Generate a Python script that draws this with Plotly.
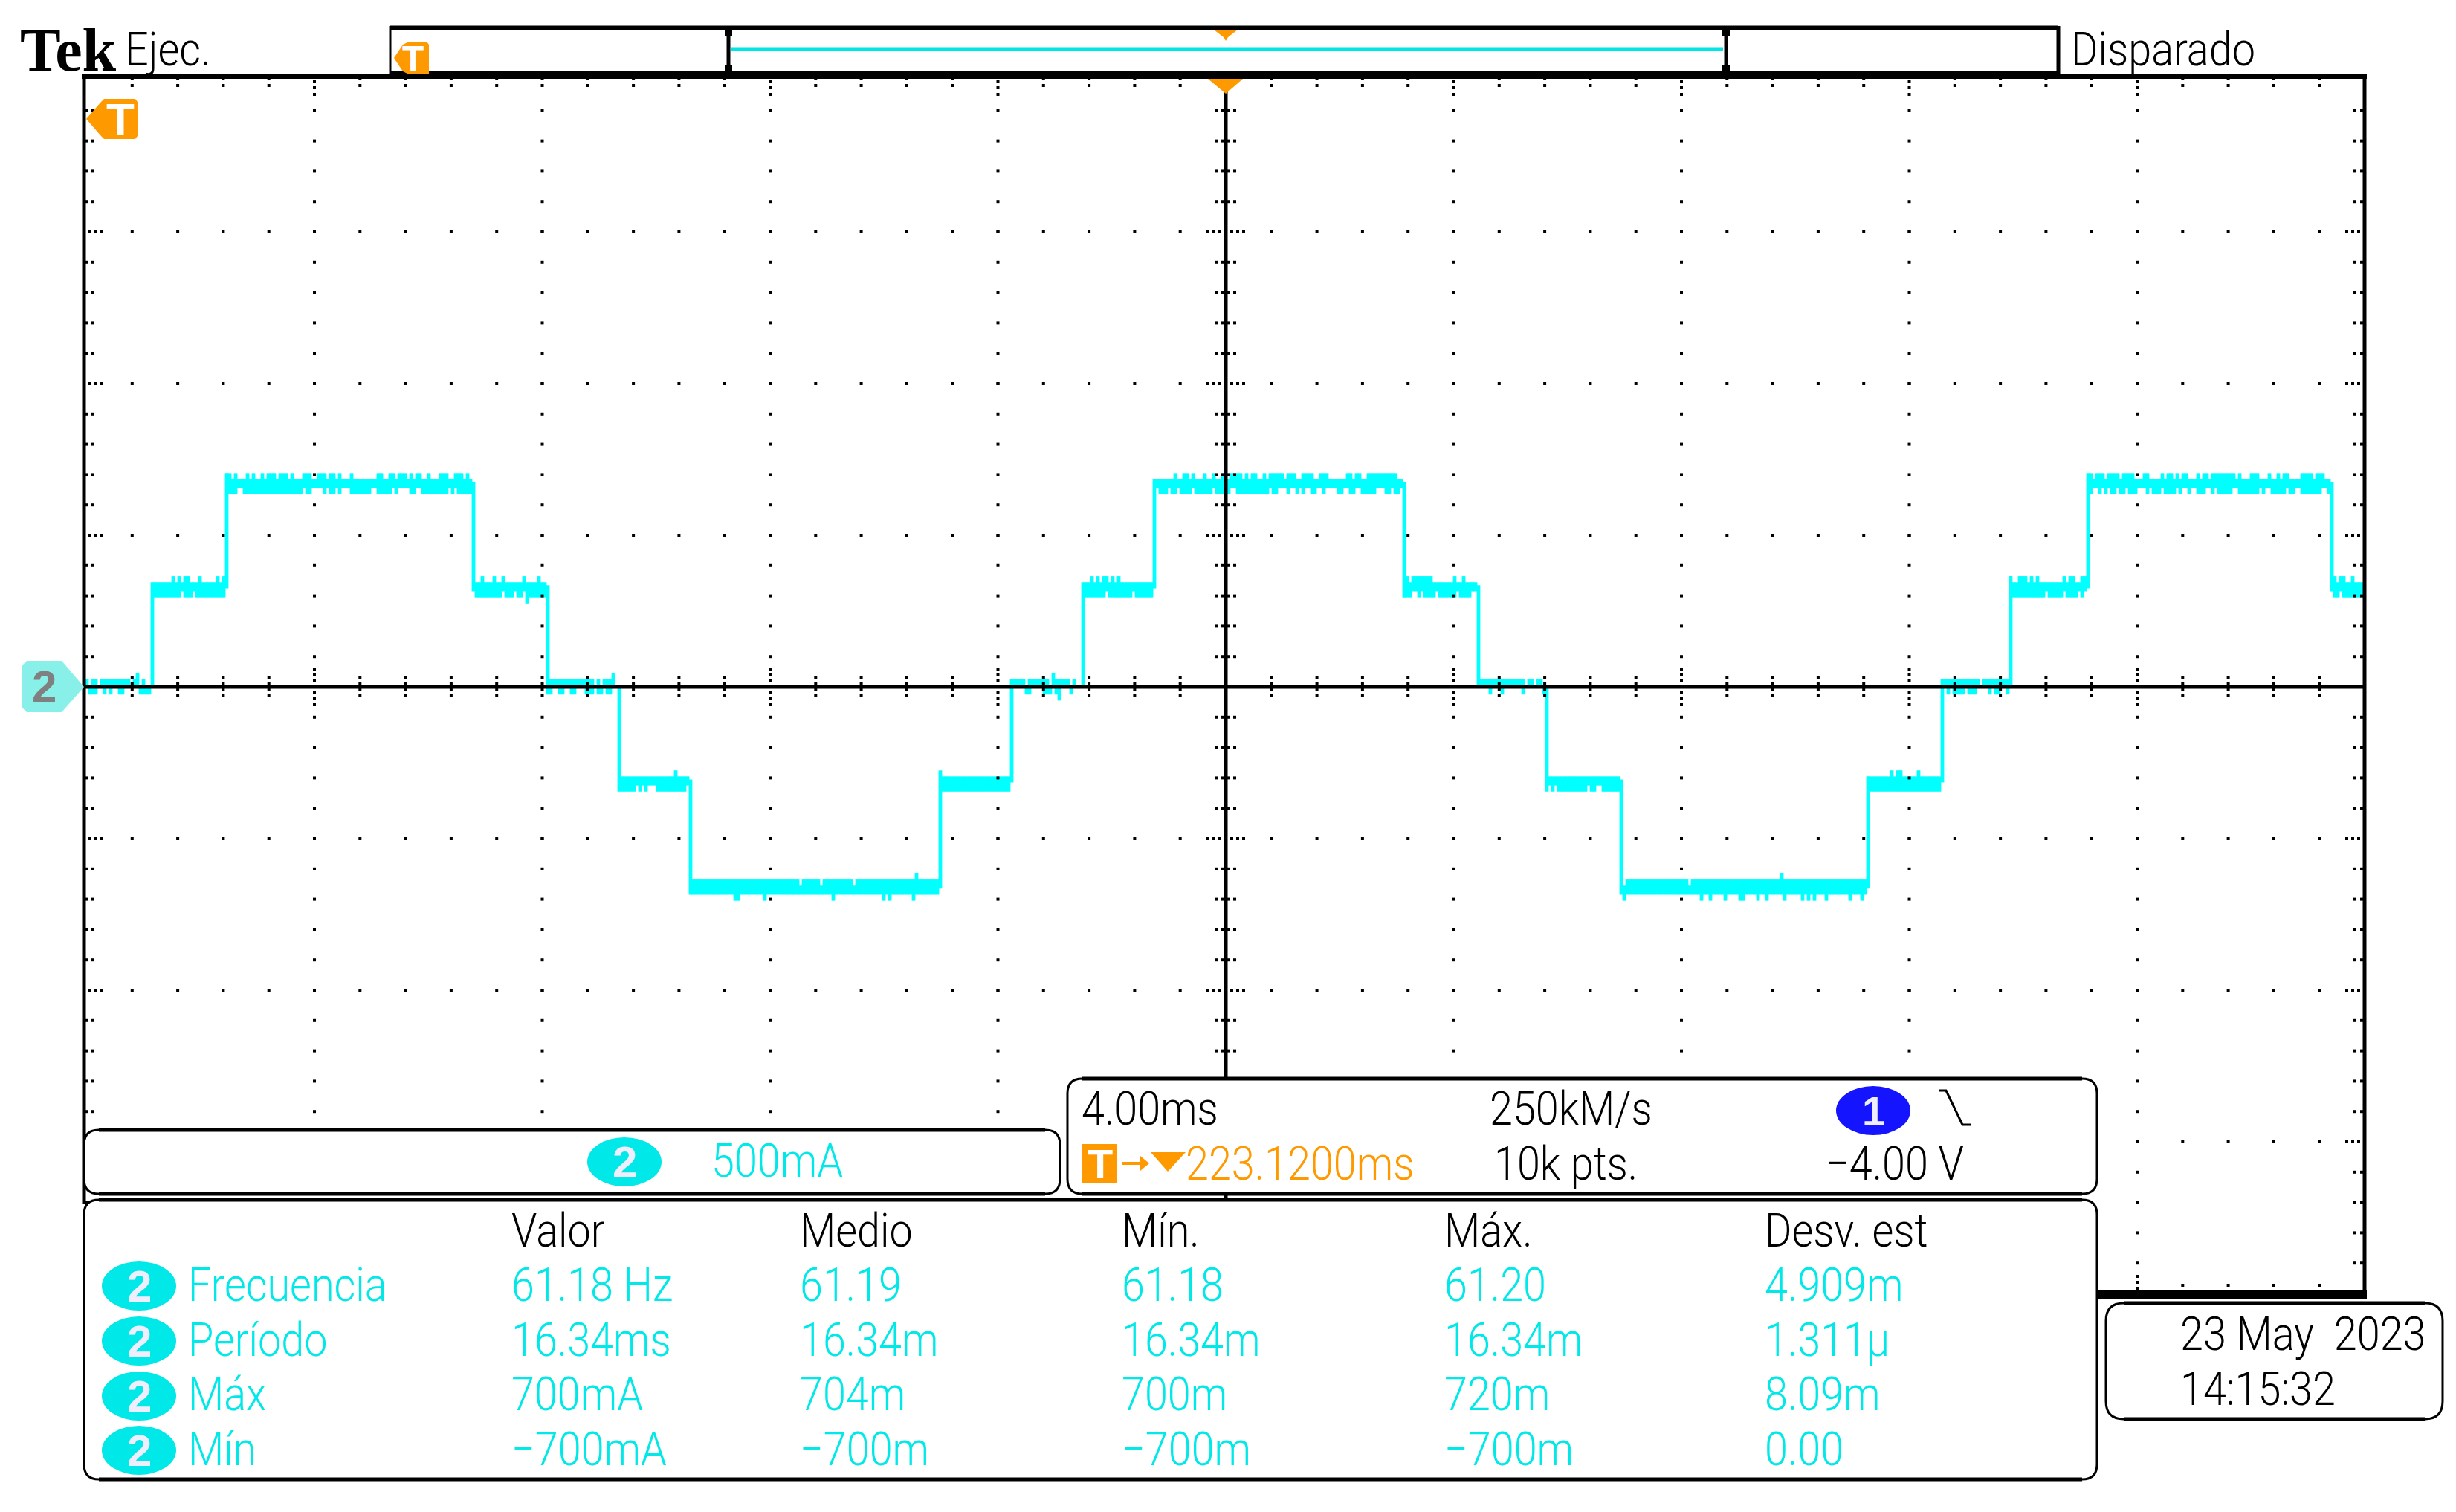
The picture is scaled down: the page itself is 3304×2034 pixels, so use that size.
import plotly.graph_objects as go

W, H = 3304, 2034
CYAN = "#00FFFF"
TXT_CYAN = "#00E8E8"
ORANGE = "#FF9900"
FONT = "Roboto"

# ---- trace: display columns (4 px wide on the capture), values in mA ----
edges = [0, 23, 48, 131, 156, 180, 204, 288, 312, 336, 360, 444, 469, 492, 517, 600, 625, 648, 674, 756, 767]
steps = ["z", "p1", "p2", "p1", "z", "n1", "n2", "n1", "z", "p1", "p2", "p1", "z", "n1", "n2", "n1", "z", "p1", "p2", "p1"]

# level: top of band, bottom of band, upper excursion, lower excursion
level_z = [0, 0, 20, -20]
level_p1 = [340, 320, 360, 300]
level_p2 = [680, 660, 700, 640]
level_n1 = [-300, -320, -280, -340]
level_n2 = [-640, -680, -620, -700]

up_0 = [(0, 2), (3, 5), (6, 16), (17, 19), (20, 21)]
dn_0 = [(2, 5), (7, 8), (9, 10), (12, 14), (19, 23)]
up_1 = [(30, 31), (32, 33), (34, 36), (39, 40), (45, 46), (47, 48)]
dn_1 = [(24, 33), (34, 37), (38, 48)]
up_2 = [(48, 50), (51, 52), (55, 56), (57, 58), (60, 61), (62, 65), (66, 69), (70, 71), (74, 77), (79, 82), (83, 85),
        (86, 87), (90, 91), (99, 101), (103, 105), (106, 109), (110, 111), (112, 114), (116, 117), (120, 123),
        (125, 128), (129, 130)]
dn_2 = [(48, 52), (54, 74), (75, 77), (81, 82), (83, 85), (86, 87), (90, 97), (99, 104), (105, 106), (110, 112),
        (114, 123), (124, 125), (126, 131)]
up_3 = [(131, 132), (134, 135), (138, 139), (141, 142), (148, 149), (153, 154)]
dn_3 = [(132, 141), (142, 145), (146, 148), (149, 156)]
up_4 = [(156, 172), (173, 174), (175, 178), (178, 179)]
dn_4 = [(156, 158), (160, 162), (164, 166), (169, 172), (173, 175), (176, 178)]
up_5 = [(199, 200)]
dn_5 = [(180, 181), (181, 186), (187, 188), (189, 190), (193, 203)]
up_6 = [(280, 281)]
dn_6 = [(219, 221), (229, 230), (252, 253), (269, 270), (271, 272), (279, 280)]
up_7 = [(288, 289)]
dn_7 = [(288, 312)]
up_8 = [(312, 317), (318, 325), (326, 332), (333, 334)]
dn_8 = [(317, 319), (323, 326), (327, 329), (332, 333)]
up_9 = [(339, 340), (341, 342), (343, 345), (346, 347), (348, 349)]
dn_9 = [(336, 344), (345, 353), (354, 360)]
up_10 = [(367, 368), (370, 372), (373, 374), (377, 378), (380, 381), (383, 384), (386, 390), (391, 392), (393, 395),
         (397, 398), (399, 404), (405, 408), (410, 414), (416, 419), (425, 427), (428, 430), (432, 442)]
dn_10 = [(362, 365), (366, 368), (369, 373), (374, 380), (381, 386), (388, 399), (400, 402), (405, 406), (408, 409),
         (410, 411), (413, 415), (417, 418), (422, 424), (426, 428), (430, 435), (438, 440), (441, 443)]
up_11 = [(444, 446), (447, 454), (461, 462), (464, 465)]
dn_11 = [(444, 447), (449, 450), (451, 455), (456, 462), (463, 467)]
up_12 = [(469, 485), (486, 488), (489, 491)]
dn_12 = [(473, 474), (477, 478), (484, 485), (491, 492)]
up_13 = []
dn_13 = [(492, 493), (494, 495), (496, 506), (507, 509), (511, 517)]
up_14 = [(571, 572)]
dn_14 = [(518, 519), (544, 545), (547, 548), (552, 553), (557, 559), (563, 564), (566, 567), (572, 573), (578, 579),
         (580, 581), (582, 583), (586, 587), (594, 595), (598, 599)]
up_15 = [(608, 609), (610, 612), (617, 618)]
dn_15 = [(600, 625)]
up_16 = [(625, 638), (639, 648)]
dn_16 = [(627, 628), (629, 633), (634, 637), (641, 642), (643, 645), (647, 648)]
up_17 = [(648, 649), (651, 654), (655, 656), (657, 658), (666, 667), (668, 670), (672, 674)]
dn_17 = [(648, 660), (661, 666), (667, 671), (672, 673)]
up_18 = [(674, 676), (677, 680), (681, 685), (686, 690), (693, 695), (699, 700), (701, 703), (704, 705), (706, 708),
         (711, 712), (713, 715), (716, 724), (725, 726), (729, 732), (735, 736), (738, 739), (740, 742), (746, 750),
         (751, 754)]
dn_18 = [(674, 676), (678, 679), (680, 681), (682, 684), (685, 687), (688, 691), (694, 695), (696, 699), (700, 704),
         (705, 706), (708, 709), (711, 714), (716, 717), (718, 723), (725, 732), (733, 734), (736, 741), (742, 744),
         (746, 753), (755, 756)]
up_19 = [(757, 758), (759, 761), (763, 764)]
dn_19 = [(757, 759), (760, 767)]

# columns where the band top drops one code on the bottom plateaus
notch_n2 = [241, 248, 259, 518, 540]
# single columns reaching one code further than the excursion level
spike_col = [18, 178, 149, 326, 328]
spike_val = [40, 40, 280, 40, -40]

up_all = [up_0, up_1, up_2, up_3, up_4, up_5, up_6, up_7, up_8, up_9, up_10, up_11, up_12, up_13, up_14, up_15, up_16,
          up_17, up_18, up_19]
dn_all = [dn_0, dn_1, dn_2, dn_3, dn_4, dn_5, dn_6, dn_7, dn_8, dn_9, dn_10, dn_11, dn_12, dn_13, dn_14, dn_15, dn_16,
          dn_17, dn_18, dn_19]
levels = {"z": level_z, "p1": level_p1, "p2": level_p2, "n1": level_n1, "n2": level_n2}

# ---- readouts ----
meas_head = ["Valor", "Medio", "Mín.", "Máx.", "Desv. est"]
meas_names = ["Frecuencia", "Período", "Máx", "Mín"]
meas_valor = ["61.18 Hz", "16.34ms", "700mA", "−700mA"]
meas_medio = ["61.19", "16.34m", "704m", "−700m"]
meas_min = ["61.18", "16.34m", "700m", "−700m"]
meas_max = ["61.20", "16.34m", "720m", "−700m"]
meas_desv = ["4.909m", "1.311µ", "8.09m", "0.00"]


def px(x):
    return x / W


def py(y):
    return 1 - y / H


def path(points, close=True):
    s = "M " + " L ".join(f"{px(x):.5f},{py(y):.5f}" for x, y in points)
    return s + " Z" if close else s


def rounded(x0, y0, x1, y1, r=20):
    return (f"M {px(x0 + r):.5f},{py(y0):.5f} L {px(x1 - r):.5f},{py(y0):.5f} "
            f"Q {px(x1):.5f},{py(y0):.5f} {px(x1):.5f},{py(y0 + r):.5f} "
            f"L {px(x1):.5f},{py(y1 - r):.5f} Q {px(x1):.5f},{py(y1):.5f} {px(x1 - r):.5f},{py(y1):.5f} "
            f"L {px(x0 + r):.5f},{py(y1):.5f} Q {px(x0):.5f},{py(y1):.5f} {px(x0):.5f},{py(y1 - r):.5f} "
            f"L {px(x0):.5f},{py(y0 + r):.5f} Q {px(x0):.5f},{py(y0):.5f} {px(x0 + r):.5f},{py(y0):.5f} Z")


# build the column bars of the trace
half_code = 5  # half of the drawn line height, mA
xs, ys = [], []
prev_mid = None
for i, name in enumerate(steps):
    hi0, lo0, up, dn = levels[name]
    for c in range(edges[i], edges[i + 1]):
        hi, lo = hi0, lo0
        if name == "n2" and c in notch_n2:
            hi = hi0 - 20
        if any(a <= c < b for a, b in up_all[i]):
            hi = up
        if any(a <= c < b for a, b in dn_all[i]):
            lo = dn
        if c in spike_col:
            v = spike_val[spike_col.index(c)]
            hi, lo = max(hi, v), min(lo, v)
        if c == edges[i] and prev_mid is not None:
            hi, lo = max(hi, prev_mid), min(lo, prev_mid)
        xs += [c, c, None]
        ys += [lo - half_code, hi + half_code, None]
    prev_mid = (hi0 + lo0) / 2

# graticule, in the same units as the trace
col_c = 384
col_step = 15.325
x_minor = [col_c + k * col_step for k in range(-24, 25)]
x_major = [col_c + k * col_step * 5 for k in range(-4, 5)]
y_minor = [j * 100 for j in range(-19, 20)]
y_major = [j * 500 for j in range(-3, 4)]
mA = 1 / 0.408  # mA per px

gx, gy = [], []
for x in x_major:
    if x != col_c:
        for y in y_minor:
            gx.append(x)
            gy.append(y)
for y in y_major:
    if y != 0:
        for x in x_minor:
            gx.append(x)
            gy.append(y)
for x in x_minor:
    off = (-24, -16, -8, 8, 16, 24) if x in x_major else (-12, -4, 4, 12)
    for d in off:
        gx.append(x)
        gy.append(d * mA)
for y in y_minor:
    off = (-6, -4, -2, 2, 4, 6) if y in y_major else (-3, -1, 1, 3)
    for d in off:
        gx.append(col_c + d)
        gy.append(y)
# edge ticks
for x in x_minor:
    major = x in x_major
    for y_px in (110, 118, 127) if major else (106, 115):
        gx.append(x)
        gy.append((924 - y_px) * mA)
    for y_px in (1717, 1725, 1733) if major else (1729, 1737):
        gx.append(x)
        gy.append((924 - y_px) * mA)
for y in y_minor:
    major = y in y_major
    for c in (2, 4, 6) if major else (1, 3):
        gx.append(c)
        gy.append(y)
    for c in (761, 763, 765) if major else (763.75, 766):
        gx.append(c)
        gy.append(y)

fig = go.Figure()
fig.add_trace(go.Scatter(x=xs, y=ys, mode="lines", line=dict(color=CYAN, width=4.8), hoverinfo="skip"))
fig.add_trace(go.Scatter(x=gx, y=gy, mode="markers", hoverinfo="skip",
                         marker=dict(symbol="square", size=4, color="#000000", line=dict(width=0))))

shapes = []


def line(x0, y0, x1, y1, w=5, color="#000000"):
    shapes.append(dict(type="line", xref="paper", yref="paper", layer="above", x0=px(x0), y0=py(y0), x1=px(x1),
                       y1=py(y1), line=dict(color=color, width=w)))


def poly(points, fill):
    shapes.append(dict(type="path", xref="paper", yref="paper", layer="above", path=path(points), fillcolor=fill,
                       line=dict(width=0)))


def panel(x0, y0, x1, y1, r=20):
    shapes.append(dict(type="path", xref="paper", yref="paper", layer="above", path=rounded(x0, y0, x1, y1, r),
                       fillcolor="#FFFFFF", line=dict(color="#000000", width=3)))
    line(x0 + r, y0, x1 - r, y0)
    line(x0 + r, y1, x1 - r, y1)


def badge(cx, cy, color):
    shapes.append(dict(type="circle", xref="paper", yref="paper", layer="above", x0=px(cx - 50), x1=px(cx + 50),
                       y0=py(cy - 33), y1=py(cy + 33), fillcolor=color, line=dict(width=0)))


# frame and centre cross
line(1649, 103, 1649, 1745, 5)
line(0 + 113, 924, 3181, 924, 5)
line(110, 103, 3184, 103, 6)
line(113, 103, 113, 1620, 5)
line(3181, 103, 3181, 1747, 5)
line(2821, 1741, 3184, 1741, 12)

# record-length bar on top
line(525, 37.5, 2769, 37.5, 6)
line(525, 100, 2769, 100, 9)
line(525, 35, 525, 102, 3)
line(2769, 35, 2769, 102, 5)
line(980, 36, 980, 100, 5)
line(2322, 36, 2322, 100, 5)
for wx in (980, 2322):
    line(wx, 38, wx, 48, 10)
    line(wx, 88, wx, 98, 10)
line(984, 66, 2318, 66, 5, "#00E5E5")
poly([(1633, 40), (1665, 40), (1652, 50), (1649, 55), (1646, 50)], ORANGE)
poly([(1625, 106), (1672, 106), (1649, 126)], ORANGE)

# trigger markers
poly([(530, 78), (542, 60), (550, 56), (574, 56), (577, 60), (577, 100), (550, 100), (542, 96)], ORANGE)
poly([(116, 160), (136, 137), (140, 133), (182, 133), (185, 137), (185, 183), (182, 187), (140, 187), (136, 183)], ORANGE)

# channel ground marker
poly([(30, 895), (36, 889), (83, 889), (113, 924), (83, 958), (36, 958), (30, 952)], "#88F0E8")

# readout panels
panel(113, 1520, 1426, 1606)
panel(1436, 1451, 2821, 1606)
panel(113, 1614, 2821, 1990)
panel(2833, 1753, 3286, 1909, 24)
for cy in (1730, 1804, 1878, 1951):
    badge(187, cy, TXT_CYAN)
badge(840, 1563, TXT_CYAN)
badge(2520, 1494, "#1414FF")

# trigger readout glyphs
poly([(1456, 1539), (1503, 1539), (1503, 1592), (1456, 1592)], ORANGE)
line(1510, 1565, 1540, 1565, 4, ORANGE)
poly([(1534, 1555), (1546, 1565), (1534, 1575)], ORANGE)
poly([(1548, 1550), (1595, 1550), (1571, 1576)], ORANGE)
shapes.append(dict(type="path", xref="paper", yref="paper", layer="above", line=dict(color="#000000", width=3),
                   path=path([(2608, 1467), (2618, 1467), (2640, 1513), (2651, 1513)], close=False)))

notes = []


def text(x, y, s, color="#000000", size=63, family=FONT, anchor="left", weight=300):
    if family == FONT:
        x = x - 4
    notes.append(dict(xref="paper", yref="paper", x=px(x), y=py(y), text=s, showarrow=False, xanchor=anchor,
                      yanchor="middle", font=dict(family=family, size=size, color=color, weight=weight), borderpad=0))


text(26, 68, "Tek", size=82, family="Liberation Serif", weight=700)
text(171, 66, "Ejec.")
text(2789, 66, "Disparado")

col_x = [691, 1079, 1512, 1946, 2377]
for x, s in zip(col_x, meas_head):
    text(x, 1655, s)
row_y = [1728, 1802, 1875, 1949]
for r, y in enumerate(row_y):
    text(256, y, meas_names[r], TXT_CYAN)
    for x, col in zip(col_x, [meas_valor, meas_medio, meas_min, meas_max, meas_desv]):
        text(x, y, col[r], TXT_CYAN)
for cy in (1730, 1804, 1878, 1951):
    text(187, cy, "2", "#EEEEFF", size=60, family="Liberation Sans", anchor="center", weight=700)
text(840, 1563, "2", "#EEEEFF", size=60, family="Liberation Sans", anchor="center", weight=700)
text(960, 1561, "500mA", TXT_CYAN)
text(2520, 1494, "1", "#EEEEFF", size=56, family="Liberation Sans", anchor="center", weight=700)
text(1458, 1491, "4.00ms")
text(2007, 1491, "250kM/s")
text(1598, 1565, "223.1200ms", ORANGE)
text(2013, 1565, "10k pts.")
text(2459, 1565, "−4.00 V")
text(2936, 1794, "23 May  2023")
text(2936, 1868, "14:15:32")
text(1479.5, 1565, "T", "#FFFFFF", size=56, family="Liberation Sans", anchor="center", weight=700)
text(555, 79, "T", "#FFFFFF", size=48, family="Liberation Sans", anchor="center", weight=700)
text(162, 160, "T", "#FFFFFF", size=62, family="Liberation Sans", anchor="center", weight=700)
text(60, 924, "2", "#808080", size=60, family="Liberation Sans", anchor="center", weight=700)

fig.update_layout(
    width=W, height=H, margin=dict(l=0, r=0, t=0, b=0), paper_bgcolor="#FFFFFF", plot_bgcolor="#FFFFFF",
    showlegend=False, shapes=shapes, annotations=notes,
    xaxis=dict(domain=[px(113), px(3181)], range=[0, 767], visible=False, fixedrange=True),
    yaxis=dict(domain=[py(1741), py(103)], range=[(924 - 1741) * mA, (924 - 103) * mA], visible=False, fixedrange=True),
)

# the scope font is narrow and none is installed, so squeeze the readout text sideways
squeeze = """
document.body.style.margin='0';document.body.style.overflow='hidden';
document.querySelectorAll('.annotation-text').forEach(function(t){
  if(t.style.fontFamily.indexOf('Roboto')<0){return;}
  var b=t.getBBox();
  t.setAttribute('transform','translate('+b.x+',0) scale(0.885,1) translate('+(-b.x)+',0)');
});
"""
fig.write_html("out.html", config=dict(displayModeBar=False), post_script=squeeze)
